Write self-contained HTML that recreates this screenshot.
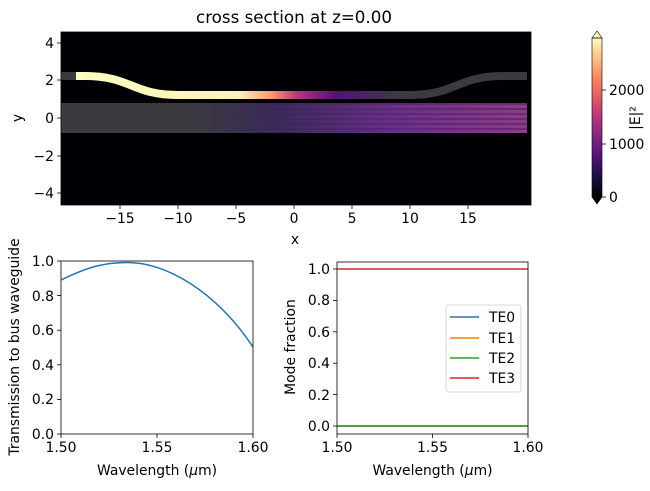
<!DOCTYPE html>
<html><head><meta charset="utf-8"><style>body{margin:0;background:#fff}svg{display:block;font-family:"DejaVu Sans","Liberation Sans",sans-serif}</style></head><body>
<svg width="650" height="491" viewBox="0 0 650 491" xmlns="http://www.w3.org/2000/svg">
<defs>
<linearGradient id="fld" gradientUnits="userSpaceOnUse" x1="79" y1="0" x2="400" y2="0">
<stop offset="0" stop-color="#fcfdbf"/><stop offset="0.5" stop-color="#fcf2b8"/><stop offset="0.6" stop-color="#fb9a6a"/><stop offset="0.68" stop-color="#b73779"/><stop offset="0.8" stop-color="#51127c"/><stop offset="1" stop-color="#3b3b3f"/>
</linearGradient>
<linearGradient id="bus" gradientUnits="userSpaceOnUse" x1="190" y1="0" x2="527" y2="0">
<stop offset="0" stop-color="#3b3b3f"/><stop offset="0.25" stop-color="#3a2a5a"/><stop offset="0.6" stop-color="#6a2f88"/><stop offset="1" stop-color="#8a3d8c"/>
</linearGradient>
<linearGradient id="cb" x1="0" y1="1" x2="0" y2="0">
<stop offset="0" stop-color="#000004"/><stop offset="0.13" stop-color="#1c1044"/><stop offset="0.25" stop-color="#4f127b"/><stop offset="0.38" stop-color="#812581"/><stop offset="0.5" stop-color="#b5367a"/><stop offset="0.63" stop-color="#e55964"/><stop offset="0.75" stop-color="#fb8761"/><stop offset="0.88" stop-color="#fec287"/><stop offset="1" stop-color="#fcfdbf"/>
</linearGradient>
<pattern id="str" width="10" height="5" patternUnits="userSpaceOnUse" y="103"><rect width="10" height="2" fill="#000" opacity="0.25"/></pattern>
<linearGradient id="strf" gradientUnits="userSpaceOnUse" x1="230" y1="0" x2="527" y2="0"><stop offset="0" stop-color="#fff" stop-opacity="0"/><stop offset="1" stop-color="#fff" stop-opacity="1"/></linearGradient>
<mask id="sm"><rect x="61" y="103" width="468" height="30" fill="url(#strf)"/></mask>
</defs>
<text x="294" y="23" font-size="16.7" text-anchor="middle">cross section at z=0.00</text>
<rect x="61" y="32" width="470" height="173" fill="#000004"/>
<rect x="61" y="103" width="466" height="30" fill="url(#bus)"/>
<rect x="61" y="103" width="466" height="30" fill="url(#str)" mask="url(#sm)"/>
<path d="M61,76 L85,76 C131,76 132,95 178,95 L410,95 C456,95 457,76 503,76 L527,76" stroke="#3b3b3f" stroke-width="8" fill="none"/>
<path d="M76,76 L85,76 C131,76 132,95 178,95 L400,95" stroke="url(#fld)" stroke-width="8" fill="none"/>
<rect x="61" y="32" width="470" height="173" fill="none" stroke="#000" stroke-width="0.8"/>
<g stroke="#000" stroke-width="0.8">
<line x1="120" y1="205" x2="120" y2="209"/><line x1="178" y1="205" x2="178" y2="209"/><line x1="236" y1="205" x2="236" y2="209"/><line x1="294" y1="205" x2="294" y2="209"/><line x1="352" y1="205" x2="352" y2="209"/><line x1="410" y1="205" x2="410" y2="209"/><line x1="468" y1="205" x2="468" y2="209"/>
<line x1="57" y1="43" x2="61" y2="43"/><line x1="57" y1="80" x2="61" y2="80"/><line x1="57" y1="118" x2="61" y2="118"/><line x1="57" y1="156" x2="61" y2="156"/><line x1="57" y1="193" x2="61" y2="193"/>
</g>
<g font-size="13.9" text-anchor="middle">
<text x="120" y="223">−15</text><text x="178" y="223">−10</text><text x="236" y="223">−5</text><text x="294" y="223">0</text><text x="352" y="223">5</text><text x="410" y="223">10</text><text x="468" y="223">15</text>
<text x="295" y="244">x</text>
</g>
<g font-size="13.9" text-anchor="end">
<text x="54" y="48">4</text><text x="54" y="85">2</text><text x="54" y="123">0</text><text x="54" y="161">−2</text><text x="54" y="198">−4</text>
</g>
<text x="22" y="118" font-size="13.9" text-anchor="middle" transform="rotate(-90 22 118)">y</text>
<rect x="592" y="38" width="10" height="159" fill="url(#cb)"/>
<polygon points="592,38 597,31 602,38" fill="#fcfdbf" stroke="#000" stroke-width="0.6"/>
<polygon points="592,197 597,204 602,197" fill="#000004" stroke="#000" stroke-width="0.6"/>
<rect x="592" y="38" width="10" height="159" fill="none" stroke="#000" stroke-width="0.6"/>
<g stroke="#000" stroke-width="0.8"><line x1="602" y1="90" x2="606" y2="90"/><line x1="602" y1="144" x2="606" y2="144"/><line x1="602" y1="197" x2="606" y2="197"/></g>
<g font-size="13.9"><text x="609" y="95">2000</text><text x="609" y="149">1000</text><text x="609" y="202">0</text></g>
<text x="640" y="118" font-size="13.9" text-anchor="middle" transform="rotate(-90 640 118)">|E|²</text>
<path d="M61,280 C90,266 105,262.5 128,262.5 C165,262.5 215,290 253,347" stroke="#1f77b4" stroke-width="1.5" fill="none"/>
<rect x="61" y="261" width="192" height="173" fill="none" stroke="#000" stroke-width="0.8"/>
<g stroke="#000" stroke-width="0.8">
<line x1="61" y1="434" x2="61" y2="438"/><line x1="157" y1="434" x2="157" y2="438"/><line x1="253" y1="434" x2="253" y2="438"/>
<line x1="57" y1="261" x2="61" y2="261"/><line x1="57" y1="295.6" x2="61" y2="295.6"/><line x1="57" y1="330.2" x2="61" y2="330.2"/><line x1="57" y1="364.8" x2="61" y2="364.8"/><line x1="57" y1="399.4" x2="61" y2="399.4"/><line x1="57" y1="434" x2="61" y2="434"/>
</g>
<g font-size="13.9" text-anchor="end"><text x="54" y="266">1.0</text><text x="54" y="301">0.8</text><text x="54" y="335">0.6</text><text x="54" y="370">0.4</text><text x="54" y="404">0.2</text><text x="54" y="439">0.0</text></g>
<g font-size="13.9" text-anchor="middle"><text x="61" y="452">1.50</text><text x="157" y="452">1.55</text><text x="253" y="452">1.60</text>
<text x="157" y="475">Wavelength (<tspan font-style="italic">μ</tspan>m)</text></g>
<text x="19" y="347" font-size="13.9" text-anchor="middle" transform="rotate(-90 19 347)">Transmission to bus waveguide</text>
<line x1="337" y1="426" x2="528" y2="426" stroke="#1f77b4" stroke-width="1.5"/>
<line x1="337" y1="426" x2="528" y2="426" stroke="#ff7f0e" stroke-width="1.5"/>
<line x1="337" y1="426" x2="528" y2="426" stroke="#2ca02c" stroke-width="1.5"/>
<line x1="337" y1="269" x2="528" y2="269" stroke="#d62728" stroke-width="1.5"/>
<rect x="337" y="262" width="191" height="172" fill="none" stroke="#000" stroke-width="0.8"/>
<g stroke="#000" stroke-width="0.8">
<line x1="337" y1="434" x2="337" y2="438"/><line x1="432.5" y1="434" x2="432.5" y2="438"/><line x1="528" y1="434" x2="528" y2="438"/>
<line x1="333" y1="269" x2="337" y2="269"/><line x1="333" y1="300.4" x2="337" y2="300.4"/><line x1="333" y1="331.8" x2="337" y2="331.8"/><line x1="333" y1="363.2" x2="337" y2="363.2"/><line x1="333" y1="394.6" x2="337" y2="394.6"/><line x1="333" y1="426" x2="337" y2="426"/>
</g>
<g font-size="13.9" text-anchor="end"><text x="330" y="274">1.0</text><text x="330" y="305">0.8</text><text x="330" y="337">0.6</text><text x="330" y="368">0.4</text><text x="330" y="400">0.2</text><text x="330" y="431">0.0</text></g>
<g font-size="13.9" text-anchor="middle"><text x="337" y="452">1.50</text><text x="432.5" y="452">1.55</text><text x="528" y="452">1.60</text>
<text x="432.5" y="475">Wavelength (<tspan font-style="italic">μ</tspan>m)</text></g>
<text x="295" y="347" font-size="13.9" text-anchor="middle" transform="rotate(-90 295 347)">Mode fraction</text>
<rect x="446" y="305" width="75" height="87" rx="3" fill="#fff" stroke="#ccc" stroke-width="0.8"/>
<g stroke-width="1.5"><line x1="450" y1="317" x2="479" y2="317" stroke="#1f77b4"/><line x1="450" y1="338" x2="479" y2="338" stroke="#ff7f0e"/><line x1="450" y1="358" x2="479" y2="358" stroke="#2ca02c"/><line x1="450" y1="378" x2="479" y2="378" stroke="#d62728"/></g>
<g font-size="13.9"><text x="489" y="322">TE0</text><text x="489" y="343">TE1</text><text x="489" y="363">TE2</text><text x="489" y="383">TE3</text></g>
</svg>
</body></html>
